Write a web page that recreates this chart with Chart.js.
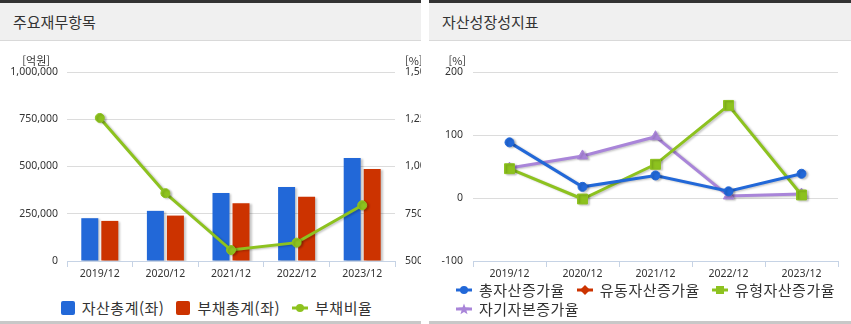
<!DOCTYPE html>
<html lang="ko">
<head>
<meta charset="utf-8">
<title>주요재무항목 / 자산성장성지표</title>
<script src="https://cdn.jsdelivr.net/npm/chart.js@4.4.0/dist/chart.umd.min.js"></script>
<style>
  html, body { margin: 0; padding: 0; background: #fff; }
  body { width: 851px; height: 324px; position: relative; overflow: hidden;
         font-family: "Noto Sans CJK KR", sans-serif; color: #333; }
  .panel { position: absolute; top: 0; height: 324px; box-sizing: border-box;
           border-top: 3px solid #333; overflow: hidden; }
  .panel .head { height: 37px; background: #f0f0f0; border-bottom: 1px solid #d9d9d9;
                 font-size: 15px; line-height: 37px; padding-left: 13px; }
  .panel .foot { position: absolute; left: 0; right: 0; bottom: 0; height: 3px; background: #c8c8c8; }
  .panel canvas.chart { position: absolute; left: 0; top: 38px; }
  .legend { position: absolute; display: flex; flex-wrap: wrap; column-gap: 12px;
            font-size: 15px; letter-spacing: 0.5px; line-height: 19px; }
  .legend .item { display: flex; align-items: center; gap: 7px; white-space: nowrap; }
  .legend .item canvas { display: block; }
</style>
</head>
<body>

<div class="panel" style="left:0;width:421px">
  <div class="head">주요재무항목</div>
  <canvas class="chart" id="finChart" width="436" height="250"></canvas>
  <div class="legend" id="finLegend" style="left:6px;width:421px;top:295px;justify-content:center"></div>
  <div class="foot"></div>
</div>

<div class="panel" style="left:429px;width:422px">
  <div class="head">자산성장성지표</div>
  <canvas class="chart" id="growthChart" width="422" height="250"></canvas>
  <div class="legend" id="growthLegend" style="left:27px;width:392px;top:277px"></div>
  <div class="foot"></div>
</div>

<script>
var years = ['2019/12', '2020/12', '2021/12', '2022/12', '2023/12'];

// 주요재무항목 (억원 / %)
var totalAssets = [226500, 265300, 359200, 391000, 544800];
var totalLiabilities = [212200, 240300, 306100, 339500, 486500];
var debtRatio = [1257, 859, 558, 597, 795];

// 자산성장성지표 (%)
var totalAssetGrowth = [88.3, 17.7, 35.8, 10.6, 38.5];
var currentAssetGrowth = [null, null, null, null, null];
var tangibleAssetGrowth = [46.5, -1.6, 53.5, 147.0, 4.8];
var equityGrowth = [47.5, 66.8, 97.3, 3.2, 6.4];

var BLUE = '#2268d8', RED = '#cc3300', GREEN = '#8dc21f', PURPLE = '#a985d9';
var tickFont = { family: '"Noto Sans", sans-serif', size: 10.5 };

// soft drop shadow under bars and lines
var shadow = {
  id: 'shadow',
  beforeDatasetDraw: function (chart) {
    var c = chart.ctx;
    c.save();
    c.shadowColor = 'rgba(0,0,0,0.22)';
    c.shadowBlur = 2;
    c.shadowOffsetX = 2;
    c.shadowOffsetY = 1;
  },
  afterDatasetDraw: function (chart) { chart.ctx.restore(); }
};

// unit text above the value axes: [억원], [%]
var unitLabels = {
  id: 'unitLabels',
  afterDraw: function (chart, args, opts) {
    var ctx = chart.ctx, area = chart.chartArea;
    ctx.save();
    ctx.font = '11px "Noto Sans CJK KR"';
    ctx.fillStyle = '#333';
    ctx.textBaseline = 'middle';
    (opts.items || []).forEach(function (it) {
      var left = it.side === 'left';
      ctx.textAlign = left ? 'right' : 'left';
      ctx.fillText(it.text, left ? area.left - it.gap : area.right + it.gap, area.top - 11);
    });
    ctx.restore();
  }
};

function fmt(v) { return Number(v).toLocaleString('en-US'); }

function xAxis() {
  return {
    offset: true,
    grid: { offset: true, drawOnChartArea: false, drawTicks: true, tickLength: 6, color: '#c6d3e5' },
    border: { color: '#c6d3e5' },
    ticks: { color: '#333', font: tickFont, padding: 1, maxRotation: 0 },
    afterFit: function (s) { s.height = 30; }
  };
}

var finChart = new Chart(document.getElementById('finChart'), {
  type: 'bar',
  data: {
    labels: years,
    datasets: [{
      label: '자산총계(좌)', data: totalAssets, backgroundColor: BLUE, yAxisID: 'y',
      order: 1, marker: 'box', categoryPercentage: 0.61, barPercentage: 0.85
    }, {
      label: '부채총계(좌)', data: totalLiabilities, backgroundColor: RED, yAxisID: 'y',
      order: 1, marker: 'box', categoryPercentage: 0.61, barPercentage: 0.85
    }, {
      type: 'line', label: '부채비율', data: debtRatio, yAxisID: 'y1', order: 0, marker: 'circle',
      borderColor: GREEN, backgroundColor: GREEN, borderWidth: 3,
      pointRadius: 4.5, pointBorderWidth: 1, pointStyle: 'circle', tension: 0
    }]
  },
  options: {
    responsive: false,
    animation: false,
    events: [],
    layout: { padding: { top: 31, left: 0, right: 0, bottom: 0 } },
    plugins: {
      legend: { display: false },
      tooltip: { enabled: false },
      unitLabels: { items: [{ side: 'left', text: '[억원]', gap: 17 }, { side: 'right', text: '[%]', gap: 10 }] }
    },
    scales: {
      x: xAxis(),
      y: {
        position: 'left', min: 0, max: 1000000,
        ticks: { stepSize: 250000, color: '#333', font: tickFont, padding: 9, callback: fmt },
        grid: { color: '#dcdcdc', drawTicks: false },
        border: { display: false },
        afterFit: function (s) { s.width = 67; }
      },
      y1: {
        position: 'right', min: 500, max: 1500,
        ticks: { stepSize: 250, color: '#333', font: tickFont, padding: 10, callback: fmt },
        grid: { drawOnChartArea: false, drawTicks: false },
        border: { display: false },
        afterFit: function (s) { s.width = 41; }
      }
    }
  },
  plugins: [shadow, unitLabels]
});

var growthChart = new Chart(document.getElementById('growthChart'), {
  type: 'line',
  data: {
    labels: years,
    datasets: [{
      label: '총자산증가율', data: totalAssetGrowth, marker: 'circle',
      borderColor: BLUE, backgroundColor: BLUE, pointStyle: 'circle', pointRadius: 4.5
    }, {
      label: '유동자산증가율', data: currentAssetGrowth, marker: 'rectRot',
      borderColor: RED, backgroundColor: RED, pointStyle: 'rectRot', pointRadius: 5
    }, {
      label: '유형자산증가율', data: tangibleAssetGrowth, marker: 'rect',
      borderColor: GREEN, backgroundColor: GREEN, pointStyle: 'rect', pointRadius: 7
    }, {
      label: '자기자본증가율', data: equityGrowth, marker: 'star',
      borderColor: PURPLE, backgroundColor: PURPLE, pointStyle: 'triangle', pointRadius: 6
    }]
  },
  options: {
    responsive: false,
    animation: false,
    events: [],
    datasets: { line: { borderWidth: 3, pointBorderWidth: 1, tension: 0, spanGaps: false } },
    layout: { padding: { top: 31, left: 0, right: 13, bottom: 0 } },
    plugins: {
      legend: { display: false },
      tooltip: { enabled: false },
      unitLabels: { items: [{ side: 'left', text: '[%]', gap: 7 }] }
    },
    scales: {
      x: xAxis(),
      y: {
        min: -100, max: 200,
        ticks: { stepSize: 100, color: '#333', font: tickFont, padding: 10 },
        grid: { color: '#dcdcdc', drawTicks: false },
        border: { display: false },
        afterFit: function (s) { s.width = 44; }
      }
    }
  },
  plugins: [shadow, unitLabels]
});

// legend swatches: filled box for bars, line with marker for line series
function legendIcon(type, color) {
  var c = document.createElement('canvas');
  c.width = type === 'box' ? 14 : 16;
  c.height = 14;
  var g = c.getContext('2d');
  g.fillStyle = color;
  g.strokeStyle = color;
  if (type === 'box') {
    g.beginPath();
    g.roundRect(0, 0, 14, 14, 2);
    g.fill();
    return c;
  }
  g.lineWidth = 3;
  g.beginPath(); g.moveTo(0, 7); g.lineTo(16, 7); g.stroke();
  g.beginPath();
  if (type === 'circle') {
    g.arc(8, 7, 4, 0, Math.PI * 2);
  } else if (type === 'rectRot') {
    g.moveTo(8, 2); g.lineTo(13, 7); g.lineTo(8, 12); g.lineTo(3, 7); g.closePath();
  } else if (type === 'rect') {
    g.rect(4, 3, 8, 8);
  } else if (type === 'star') {
    for (var i = 0; i < 10; i++) {
      var r = i % 2 ? 2.5 : 6, a = -Math.PI / 2 + i * Math.PI / 5;
      var px = 8 + r * Math.cos(a), py = 7.5 + r * Math.sin(a);
      if (i === 0) g.moveTo(px, py); else g.lineTo(px, py);
    }
    g.closePath();
  }
  g.fill();
  return c;
}

function buildLegend(chart, el) {
  chart.data.datasets.forEach(function (ds) {
    var item = document.createElement('div');
    item.className = 'item';
    item.appendChild(legendIcon(ds.marker, ds.backgroundColor));
    var span = document.createElement('span');
    span.textContent = ds.label;
    item.appendChild(span);
    el.appendChild(item);
  });
}

buildLegend(finChart, document.getElementById('finLegend'));
buildLegend(growthChart, document.getElementById('growthLegend'));
</script>
</body>
</html>
